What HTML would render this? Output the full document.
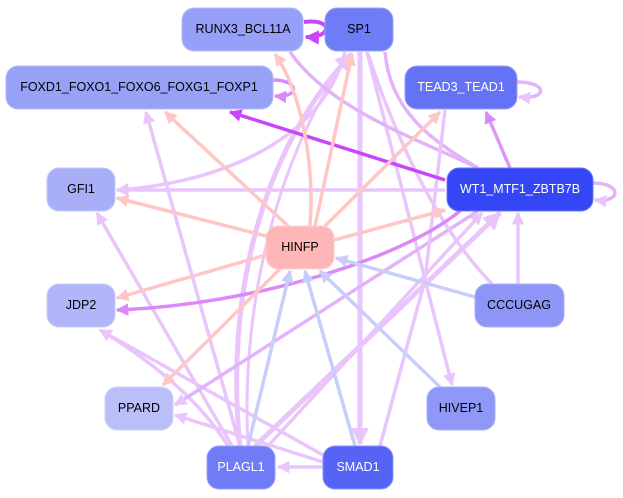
<!DOCTYPE html>
<html><head><meta charset="utf-8"><style>
html,body{margin:0;padding:0;background:#fff;width:623px;height:498px;overflow:hidden}
text{font-family:"Liberation Sans",sans-serif;font-size:12.5px;text-anchor:middle;dominant-baseline:central}
</style></head><body>
<svg width="623" height="498" viewBox="0 0 623 498" xmlns="http://www.w3.org/2000/svg">
<defs>
<marker id="lp" viewBox="0 0 10 10" refX="9" refY="5" markerWidth="3.6" markerHeight="3.6" orient="auto"><path d="M0,0L10,5L0,10z" fill="#e9c5fb"/></marker>
<marker id="pk" viewBox="0 0 10 10" refX="9" refY="5" markerWidth="3.6" markerHeight="3.6" orient="auto"><path d="M0,0L10,5L0,10z" fill="#ffc6c6"/></marker>
<marker id="bl" viewBox="0 0 10 10" refX="9" refY="5" markerWidth="3.6" markerHeight="3.6" orient="auto"><path d="M0,0L10,5L0,10z" fill="#c8cdfb"/></marker>
<marker id="sp" viewBox="0 0 10 10" refX="9" refY="5" markerWidth="3.6" markerHeight="3.6" orient="auto"><path d="M0,0L10,5L0,10z" fill="#c845f8"/></marker>
<marker id="mp" viewBox="0 0 10 10" refX="9" refY="5" markerWidth="3.6" markerHeight="3.6" orient="auto"><path d="M0,0L10,5L0,10z" fill="#d98af8"/></marker>
</defs>
<g fill="none" stroke-width="3.5">
<path d="M345,52 C320,150 200,185 117,190" stroke="#e9c5fb" marker-end="url(#lp)"/>
<path d="M445,190 L117,190" stroke="#e9c5fb" marker-end="url(#lp)"/>
<path d="M360,52 L360,444" stroke="#e9c5fb" stroke-width="5" marker-end="url(#lp)"/>
<path d="M367,52 L452,385" stroke="#e9c5fb" marker-end="url(#lp)"/>
<path d="M240,446 C225,300 260,150 352,54" stroke="#e9c5fb" stroke-width="5" marker-end="url(#lp)"/>
<path d="M248,446 C240,300 280,150 350,54" stroke="#e9c5fb" stroke-width="3" marker-end="url(#lp)"/>
<path d="M232,446 L97,213" stroke="#e9c5fb" marker-end="url(#lp)"/>
<path d="M240,446 L146,112" stroke="#e9c5fb" marker-end="url(#lp)"/>
<path d="M323,455 L100,330" stroke="#e9c5fb" marker-end="url(#lp)"/>
<path d="M228,446 C200,400 150,360 100,330" stroke="#e9c5fb" marker-end="url(#lp)"/>
<path d="M323,462 L175,415" stroke="#e9c5fb" marker-end="url(#lp)"/>
<path d="M323,467 L278,467" stroke="#e9c5fb" marker-end="url(#lp)"/>
<path d="M255,446 L500,213" stroke="#e9c5fb" stroke-width="5" marker-end="url(#lp)"/>
<path d="M268,446 L482,213" stroke="#e9c5fb" marker-end="url(#lp)"/>
<path d="M478,211 L175,405" stroke="#e2b3fa" marker-end="url(#lp)"/>
<path d="M518,284 L518,213" stroke="#e9c5fb" marker-end="url(#lp)"/>
<path d="M492,284 C440,230 400,150 368,54" stroke="#e9c5fb"/>
<path d="M290,52 C330,110 420,140 478,168" stroke="#e2b3fa"/>
<path d="M385,52 C390,110 430,140 478,168" stroke="#e2b3fa"/>
<path d="M445,110 L425,280 L380,446" stroke="#e9c5fb"/>
<path d="M510,168 L486,112" stroke="#dc98f9" marker-end="url(#mp)"/>
<path d="M273,80 C300,80 300,98 275,96" stroke="#d98af8" marker-end="url(#mp)"/>
<path d="M517,82 C548,82 548,100 519,97" stroke="#e2b3fa" marker-end="url(#lp)"/>
<path d="M593,183 C622,183 622,203 595,200" stroke="#e2b3fa" marker-end="url(#lp)"/>
<path d="M445,180 L230,112" stroke="#c845f8" marker-end="url(#sp)"/>
<path d="M460,211 C400,260 250,305 117,310" stroke="#d98af8" marker-end="url(#mp)"/>
<path d="M304,22 C333,18 333,38 306,37" stroke="#c845f8" stroke-width="4" marker-end="url(#sp)"/>
<path d="M266,236 L117,198" stroke="#ffc6c6" marker-end="url(#pk)"/>
<path d="M288,226 L165,112" stroke="#ffc6c6" marker-end="url(#pk)"/>
<path d="M310,226 C315,160 300,90 275,54" stroke="#ffc6c6" marker-end="url(#pk)"/>
<path d="M315,226 L352,54" stroke="#ffc6c6" marker-end="url(#pk)"/>
<path d="M325,226 L440,112" stroke="#ffc6c6" marker-end="url(#pk)"/>
<path d="M334,240 L445,210" stroke="#ffc6c6" marker-end="url(#pk)"/>
<path d="M266,255 L117,298" stroke="#ffc6c6" marker-end="url(#pk)"/>
<path d="M280,269 L163,385" stroke="#ffc6c6" marker-end="url(#pk)"/>
<path d="M475,297 L336,258" stroke="#c8cdfb" marker-end="url(#bl)"/>
<path d="M440,387 L320,271" stroke="#c8cdfb" marker-end="url(#bl)"/>
<path d="M355,446 L305,271" stroke="#c8cdfb" marker-end="url(#bl)"/>
<path d="M248,446 L290,271" stroke="#c8cdfb" marker-end="url(#bl)"/>
</g>
<g stroke-width="1">
<rect x="182" y="8" width="121" height="43" rx="12" fill="#97a0f8" stroke="#b5bbfa"/>
<rect x="325" y="8" width="68" height="43" rx="12" fill="#6f7cf7" stroke="#9aa2f9"/>
<rect x="6" y="66" width="267" height="43" rx="12" fill="#98a1f8" stroke="#b5bbfa"/>
<rect x="405" y="66" width="112" height="43" rx="12" fill="#6472f6" stroke="#9aa2f9"/>
<rect x="47" y="168" width="68" height="43" rx="12" fill="#a8aff8" stroke="#c3c8fb"/>
<rect x="447" y="168" width="146" height="43" rx="12" fill="#3546f7" stroke="#6a76f8"/>
<rect x="266" y="226" width="68" height="43" rx="12" fill="#ffb6b6" stroke="#ffd0d0"/>
<rect x="47" y="284" width="68" height="43" rx="12" fill="#b0b6f9" stroke="#c8ccfb"/>
<rect x="475" y="284" width="89" height="43" rx="12" fill="#8d96f7" stroke="#aab1fa"/>
<rect x="105" y="387" width="68" height="43" rx="12" fill="#babff9" stroke="#d0d3fb"/>
<rect x="427" y="387" width="68" height="43" rx="12" fill="#8f98f7" stroke="#aab1fa"/>
<rect x="207" y="446" width="68" height="43" rx="12" fill="#6f7bf7" stroke="#9aa2f9"/>
<rect x="323" y="446" width="70" height="43" rx="12" fill="#5563f6" stroke="#8a94f8"/>
</g>
<text x="243" y="29">RUNX3_BCL11A</text>
<text x="359" y="29">SP1</text>
<text x="139" y="87">FOXD1_FOXO1_FOXO6_FOXG1_FOXP1</text>
<text x="461" y="87" fill="#fff">TEAD3_TEAD1</text>
<text x="81" y="189">GFI1</text>
<text x="520" y="189" fill="#fff">WT1_MTF1_ZBTB7B</text>
<text x="300" y="247">HINFP</text>
<text x="81" y="305">JDP2</text>
<text x="519" y="305">CCCUGAG</text>
<text x="139" y="408">PPARD</text>
<text x="461" y="408">HIVEP1</text>
<text x="241" y="467" fill="#fff">PLAGL1</text>
<text x="358" y="467" fill="#fff">SMAD1</text>
</svg>
</body></html>
